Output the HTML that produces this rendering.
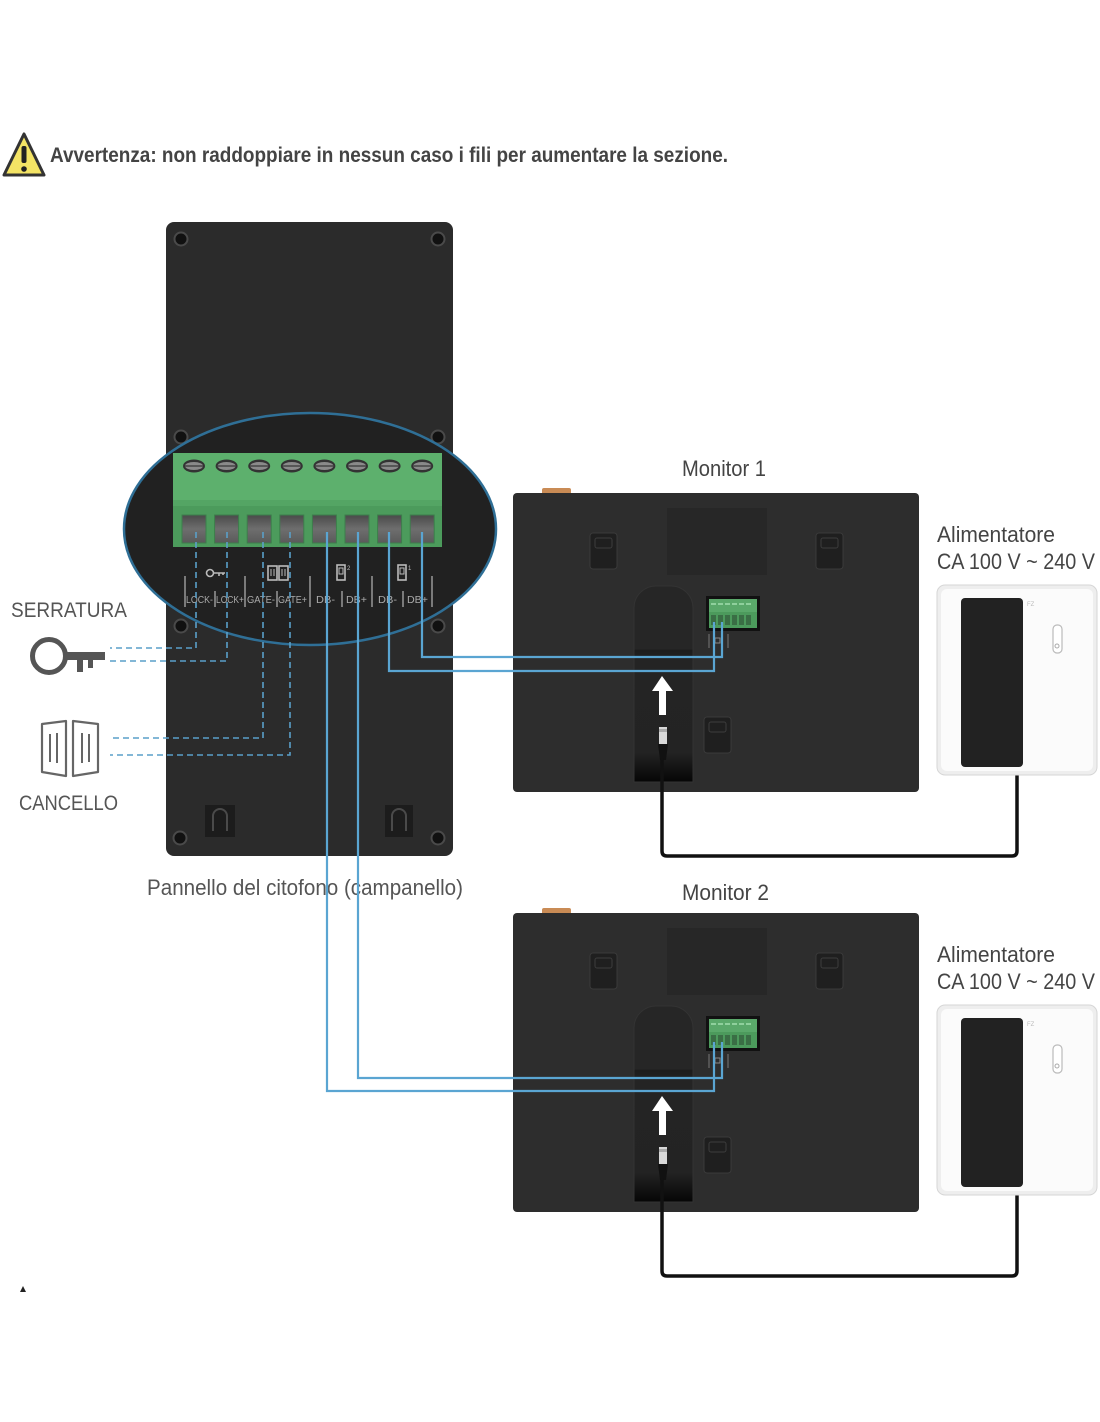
<!DOCTYPE html>
<html><head><meta charset="utf-8">
<style>
html,body{margin:0;padding:0;background:#fff;}
svg{display:block;}
text{font-family:"Liberation Sans",sans-serif;}
</style></head>
<body>
<svg width="1100" height="1422" viewBox="0 0 1100 1422" xmlns="http://www.w3.org/2000/svg">
<defs>
  <linearGradient id="standg" x1="0" y1="0" x2="0" y2="1">
    <stop offset="0" stop-color="#262626"/>
    <stop offset="0.32" stop-color="#262626"/>
    <stop offset="0.33" stop-color="#1c1c1c"/>
    <stop offset="0.38" stop-color="#242424"/>
    <stop offset="0.85" stop-color="#232323"/>
    <stop offset="1" stop-color="#060606"/>
  </linearGradient>
  <linearGradient id="holeg" x1="0" y1="0" x2="0" y2="1">
    <stop offset="0" stop-color="#4a4a4a"/>
    <stop offset="0.5" stop-color="#6e6e6e"/>
    <stop offset="1" stop-color="#5a5a5a"/>
  </linearGradient>
  <g id="hook">
    <rect x="0" y="0" width="27" height="36" rx="3" fill="#1f1f1f" stroke="#3a3a3a" stroke-width="1"/>
    <rect x="5" y="5" width="17" height="10" rx="2" fill="none" stroke="#3c3c3c" stroke-width="1"/>
  </g>
  <g id="mon">
    <rect x="542" y="488" width="29" height="8" rx="2" fill="#c98b55"/>
    <rect x="513" y="493" width="406" height="299" rx="4" fill="#2d2d2d"/>
    <rect x="667" y="508" width="100" height="67" fill="#272727"/>
    <use href="#hook" x="590" y="533"/>
    <use href="#hook" x="816" y="533"/>
    <use href="#hook" x="704" y="717"/>
    <path d="M634 782 V608 a22 22 0 0 1 22 -22 h15 a22 22 0 0 1 22 22 V782 z" fill="url(#standg)" stroke="#333" stroke-width="1"/>
    <rect x="706" y="596" width="54" height="35" fill="#111"/>
    <rect x="709" y="599" width="48" height="29" fill="#5aa86a"/>
    <rect x="709" y="612" width="48" height="16" fill="#4c9a5c"/>
    <g fill="#8fd09c">
      <rect x="711" y="603" width="5" height="2"/><rect x="718" y="603" width="5" height="2"/><rect x="725" y="603" width="5" height="2"/><rect x="732" y="603" width="5" height="2"/><rect x="739" y="603" width="5" height="2"/><rect x="746" y="603" width="5" height="2"/>
    </g>
    <g fill="#3a6e45">
      <rect x="711" y="615" width="5" height="10"/><rect x="718" y="615" width="5" height="10"/><rect x="725" y="615" width="5" height="10"/><rect x="732" y="615" width="5" height="10"/><rect x="739" y="615" width="5" height="10"/><rect x="746" y="615" width="5" height="10"/>
    </g>
    <path d="M709 634 v14 M728 634 v14" stroke="#777" stroke-width="1"/>
    <rect x="715" y="638" width="5" height="5" fill="none" stroke="#888" stroke-width="1"/>
    <path d="M662 676 L652 691 H659 V715 H666 V691 H673 Z" fill="#fff"/>
    <rect x="659" y="727" width="8" height="17" fill="#d8d8d8"/>
    <rect x="659" y="729" width="8" height="3" fill="#aaa"/>
    <path d="M658 744 H668 L666 760 H660 Z" fill="#111"/>
    <path d="M662 758 V851 q0 5 5 5 H1012 q5 0 5 -5 V765" stroke="#111" stroke-width="3.5" fill="none"/>
    <rect x="937" y="585" width="160" height="190" rx="8" fill="#eeeeee" stroke="#d6d6d6" stroke-width="1"/>
    <rect x="941" y="589" width="152" height="182" rx="6" fill="#fbfbfb"/>
    <rect x="961" y="598" width="62" height="169" rx="4" fill="#222"/>
    <text x="1027" y="606" font-size="6" fill="#bbb">FZ</text>
    <rect x="1053" y="625" width="9" height="28" rx="4" fill="#fff" stroke="#bbb" stroke-width="1.2"/>
    <circle cx="1057" cy="646" r="2" fill="none" stroke="#aaa" stroke-width="1"/>
  </g>
</defs>

<!-- Warning -->
<path d="M24 134 L44 175 H4 Z" fill="#f4e465" stroke="#333" stroke-width="3" stroke-linejoin="round"/>
<rect x="21.5" y="146" width="5" height="17" rx="2" fill="#222"/>
<circle cx="24" cy="169" r="2.8" fill="#222"/>
<text x="50" y="162" font-size="21" font-weight="bold" fill="#444" textLength="678" lengthAdjust="spacingAndGlyphs">Avvertenza: non raddoppiare in nessun caso i fili per aumentare la sezione.</text>

<!-- Door panel -->
<rect x="166" y="222" width="287" height="634" rx="8" fill="#2b2b2b"/>
<g fill="#111" stroke="#4a4a4a" stroke-width="2">
  <circle cx="181" cy="239" r="6.5"/><circle cx="438" cy="239" r="6.5"/>
  <circle cx="181" cy="437" r="6.5"/><circle cx="438" cy="437" r="6.5"/>
  <circle cx="181" cy="626" r="6.5"/><circle cx="438" cy="626" r="6.5"/>
  <circle cx="180" cy="838" r="6.5"/><circle cx="438" cy="838" r="6.5"/>
</g>
<rect x="205" y="805" width="30" height="32" fill="#1c1c1c"/>
<path d="M213 831 V816 a7 7 0 0 1 14 0 V831" fill="none" stroke="#4a4a4a" stroke-width="2"/>
<rect x="385" y="805" width="28" height="32" fill="#1c1c1c"/>
<path d="M392 831 V816 a7 7 0 0 1 14 0 V831" fill="none" stroke="#4a4a4a" stroke-width="2"/>

<!-- Ellipse zoom -->
<ellipse cx="310" cy="529" rx="186" ry="116" fill="#212121" stroke="#2f6f96" stroke-width="2.5"/>

<!-- Terminal block -->
<rect x="173" y="453" width="269" height="94" fill="#4c9b5c"/>
<rect x="173" y="453" width="269" height="50" fill="#5db06d"/>
<rect x="173" y="500" width="269" height="6" fill="#54a564"/>
<g>
  <g fill="#333">
    <ellipse cx="194" cy="466" rx="11" ry="6.5"/><ellipse cx="226.6" cy="466" rx="11" ry="6.5"/><ellipse cx="259.2" cy="466" rx="11" ry="6.5"/><ellipse cx="291.8" cy="466" rx="11" ry="6.5"/><ellipse cx="324.4" cy="466" rx="11" ry="6.5"/><ellipse cx="357" cy="466" rx="11" ry="6.5"/><ellipse cx="389.6" cy="466" rx="11" ry="6.5"/><ellipse cx="422.2" cy="466" rx="11" ry="6.5"/>
  </g>
  <g fill="#8a8a8a">
    <ellipse cx="194" cy="466" rx="9" ry="4"/><ellipse cx="226.6" cy="466" rx="9" ry="4"/><ellipse cx="259.2" cy="466" rx="9" ry="4"/><ellipse cx="291.8" cy="466" rx="9" ry="4"/><ellipse cx="324.4" cy="466" rx="9" ry="4"/><ellipse cx="357" cy="466" rx="9" ry="4"/><ellipse cx="389.6" cy="466" rx="9" ry="4"/><ellipse cx="422.2" cy="466" rx="9" ry="4"/>
  </g>
  <g stroke="#444" stroke-width="1.5">
    <path d="M185 466 h18 M217.6 466 h18 M250.2 466 h18 M282.8 466 h18 M315.4 466 h18 M348 466 h18 M380.6 466 h18 M413.2 466 h18"/>
  </g>
  <g fill="url(#holeg)" stroke="#3c7e4b" stroke-width="1">
    <rect x="182" y="515" width="24" height="28"/><rect x="214.6" y="515" width="24" height="28"/><rect x="247.2" y="515" width="24" height="28"/><rect x="279.8" y="515" width="24" height="28"/><rect x="312.4" y="515" width="24" height="28"/><rect x="345" y="515" width="24" height="28"/><rect x="377.6" y="515" width="24" height="28"/><rect x="410.2" y="515" width="24" height="28"/>
  </g>
</g>

<!-- Terminal labels -->
<g stroke="#aaa" stroke-width="1.3">
  <path d="M185 576 V607 M245 576 V607 M310 576 V607 M372 576 V607 M432 576 V607"/>
  <path d="M215 591 V607 M277 591 V607 M342 591 V607 M403 591 V607"/>
</g>
<g font-size="10" fill="#aaa">
  <text x="186" y="603" textLength="27" lengthAdjust="spacingAndGlyphs">LOCK-</text>
  <text x="216" y="603" textLength="28" lengthAdjust="spacingAndGlyphs">LOCK+</text>
  <text x="247" y="603" textLength="28" lengthAdjust="spacingAndGlyphs">GATE-</text>
  <text x="278" y="603" textLength="29" lengthAdjust="spacingAndGlyphs">GATE+</text>
  <text x="316" y="603" textLength="19" lengthAdjust="spacingAndGlyphs">DB-</text>
  <text x="346" y="603" textLength="21" lengthAdjust="spacingAndGlyphs">DB+</text>
  <text x="378" y="603" textLength="19" lengthAdjust="spacingAndGlyphs">DB-</text>
  <text x="407" y="603" textLength="21" lengthAdjust="spacingAndGlyphs">DB+</text>
</g>
<g stroke="#bbb" stroke-width="1.6" fill="none">
  <circle cx="210" cy="573" r="3.5"/>
  <path d="M213.5 573 H225 M219 573 v3 M223 573 v2"/>
  <rect x="268" y="566" width="9" height="14"/><rect x="279" y="566" width="9" height="14"/>
  <path d="M271 569 v7 M274 569 v7 M282 569 v7 M285 569 v7" stroke-width="1"/>
  <rect x="337" y="565" width="8" height="15"/>
  <rect x="339" y="568" width="4" height="6" stroke-width="1"/>
  <rect x="398" y="565" width="8" height="15"/>
  <rect x="400" y="568" width="4" height="6" stroke-width="1"/>
</g>
<text x="347" y="570" font-size="6" fill="#bbb">2</text>
<text x="408" y="570" font-size="6" fill="#bbb">1</text>

<!-- Key and gate labels/icons -->
<text x="11" y="617" font-size="21" fill="#555" textLength="116" lengthAdjust="spacingAndGlyphs">SERRATURA</text>
<text x="19" y="810" font-size="21" fill="#555" textLength="99" lengthAdjust="spacingAndGlyphs">CANCELLO</text>
<circle cx="49" cy="656" r="16.5" fill="none" stroke="#555" stroke-width="5"/>
<rect x="64" y="652" width="41" height="8" fill="#555"/>
<rect x="77" y="652" width="6" height="20" fill="#555"/>
<rect x="88" y="652" width="5" height="16" fill="#555"/>
<g fill="none" stroke="#666" stroke-width="2.2" stroke-linejoin="round">
  <path d="M42 724 L66 721 V776 L42 772 Z"/>
  <path d="M73 721 L98 724 V772 L73 776 Z"/>
  <path d="M50 734 V762 M57 733 V763 M82 733 V763 M89 734 V762" stroke-width="2"/>
</g>

<!-- Monitors -->
<use href="#mon"/>
<use href="#mon" y="420"/>

<text x="682" y="476" font-size="22" fill="#444" textLength="84" lengthAdjust="spacingAndGlyphs">Monitor 1</text>
<text x="682" y="900" font-size="22" fill="#444" textLength="87" lengthAdjust="spacingAndGlyphs">Monitor 2</text>
<text x="937" y="542" font-size="22" fill="#444" textLength="118" lengthAdjust="spacingAndGlyphs">Alimentatore</text>
<text x="937" y="569" font-size="22" fill="#444" textLength="158" lengthAdjust="spacingAndGlyphs">CA 100 V ~ 240 V</text>
<text x="937" y="962" font-size="22" fill="#444" textLength="118" lengthAdjust="spacingAndGlyphs">Alimentatore</text>
<text x="937" y="989" font-size="22" fill="#444" textLength="158" lengthAdjust="spacingAndGlyphs">CA 100 V ~ 240 V</text>

<text x="147" y="895" font-size="22" fill="#555" textLength="316" lengthAdjust="spacingAndGlyphs">Pannello del citofono (campanello)</text>

<!-- Dashed wires -->
<g fill="none" stroke="#5a9fc9" stroke-width="1.6" stroke-dasharray="6,4">
  <path d="M196 532 V648 H110"/>
  <path d="M227 532 V661 H110"/>
  <path d="M263 532 V738 H110"/>
  <path d="M290 532 V755 H110"/>
</g>

<!-- Solid wires -->
<g fill="none" stroke="#5aa5d2" stroke-width="2.2">
  <path d="M389 532 V671 H714 V622"/>
  <path d="M422 532 V657 H722 V622"/>
  <path d="M327 532 V1091 H714 V1042"/>
  <path d="M358 532 V1078 H722 V1042"/>
</g>

<!-- stray mark -->
<path d="M20 1292 L23 1286 L26 1292 Z" fill="#222"/>
</svg>
</body></html>
